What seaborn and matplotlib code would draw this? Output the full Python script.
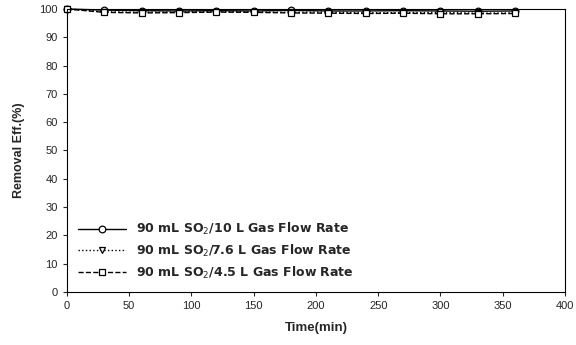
import matplotlib.pyplot as plt
import pandas as pd
import seaborn as sns

time_min = [0, 30, 60, 90, 120, 150, 180, 210, 240, 270, 300, 330, 360]
eff_10 = [100, 99.6, 99.4, 99.3, 99.4, 99.3, 99.5, 99.3, 99.3, 99.4, 99.3, 99.2, 99.3]
eff_76 = [100, 99.0, 98.8, 98.9, 99.0, 98.9, 98.8, 98.9, 98.6, 98.7, 98.8, 98.5, 98.6]
eff_45 = [100, 98.8, 98.6, 98.7, 98.9, 98.8, 98.6, 98.5, 98.4, 98.5, 98.3, 98.3, 98.4]
labels = ['90 mL SO$_2$/10 L Gas Flow Rate',
          '90 mL SO$_2$/7.6 L Gas Flow Rate',
          '90 mL SO$_2$/4.5 L Gas Flow Rate']

df = pd.DataFrame({'time': time_min * 3,
                   'eff': eff_10 + eff_76 + eff_45,
                   'series': [labels[0]] * 13 + [labels[1]] * 13 + [labels[2]] * 13})

sns.set_style('ticks')
plt.rcParams['font.family'] = ['Liberation Sans', 'DejaVu Sans']

fig = plt.figure(figsize=(5.76, 3.45), dpi=100)
ax = fig.add_axes([0.116, 0.154, 0.865, 0.82])

styles = [('-', 'o'), (':', 'v'), ('--', 's')]
for lab, (ls, mk) in zip(labels, styles):
    sub = df[df['series'] == lab]
    sns.lineplot(data=sub, x='time', y='eff', ax=ax, color='black', linestyle=ls,
                 marker=mk, markersize=4.8, markerfacecolor='white', markeredgecolor='black',
                 markeredgewidth=0.9, linewidth=1.0, label=lab, clip_on=False)

ax.set_xlim(0, 400)
ax.set_ylim(0, 100)
ax.set_xticks(range(0, 401, 50))
ax.set_yticks(range(0, 101, 10))
ax.tick_params(labelsize=8, direction='out', length=3, width=0.8)
for s in ax.spines.values():
    s.set_linewidth(0.8)
    s.set_color('black')
ax.set_xlabel('Time(min)', fontsize=9.5, fontweight='bold', labelpad=8)
ax.set_ylabel('Removal Eff.(%)', fontsize=9, fontweight='bold', labelpad=10)

leg = ax.legend(loc='lower left', bbox_to_anchor=(0.0, 0.0), frameon=False,
                prop={'family': ['DejaVu Sans'], 'size': 9, 'weight': 'bold'},
                handlelength=3.8, labelspacing=0.45, handletextpad=0.8)

fig.savefig('out.png', dpi=100)
